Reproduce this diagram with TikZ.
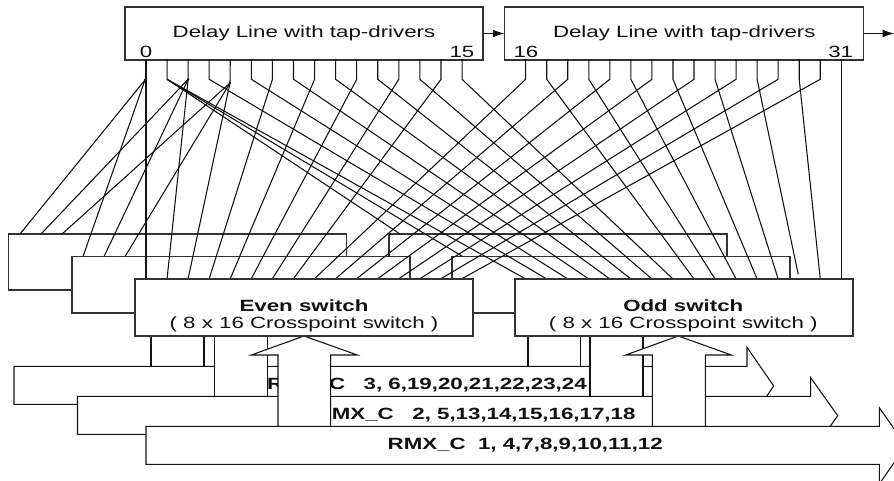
\documentclass[tikz,border=0pt]{standalone}
\usepackage{fontspec}
\setmainfont[FakeStretch=1.37]{Liberation Sans}
\usetikzlibrary{arrows.meta}
\definecolor{ink}{HTML}{111111}
\definecolor{boxink}{HTML}{333333}
\tikzset{
  sized/.style n args={2}{minimum width=#1*0.75pt, minimum height=#2*0.75pt},
  block/.style={draw=boxink, line width=0.85pt, fill=white, inner sep=0pt, rectangle},
  lbl/.style={inner sep=0pt, font=\fontsize{12.2pt}{14pt}\selectfont, text=ink},
  rmx/.style={lbl, anchor=east, font=\fontsize{12.2pt}{14pt}\selectfont\bfseries},
  wire/.style={draw=ink, line width=0.8pt},
  shape line/.style={draw=ink, line width=0.8pt, fill=white},
  link/.style={draw=ink, line width=0.7pt, -{Latex[length=8.6pt,width=6pt]}},
  dot/.style={fill=ink, draw=none}
}
\begin{document}
\begin{tikzpicture}[x=0.75pt,y=-0.75pt]
\clip (0,0) rectangle (894,481);
\fill[white] (0,0) rectangle (894,481);

% rear switch boards
\node[block, sized={338}{56}] (evenA) at (177.5,262) {};
\node[block, sized={338}{56}] (oddA) at (558,262) {};
\node[block, sized={338}{56.5}] (evenB) at (241,284.7) {};
\node[block, sized={338}{56.5}] (oddB) at (621,284.7) {};

% delay lines
\node[block, sized={358}{53}, lbl] (delayA) at (304,33.5) {Delay Line with tap-drivers};
\node[block, sized={359}{53}, lbl] (delayB) at (684.3,33.5) {Delay Line with tap-drivers};
\node[lbl] (n0) at (146,51.5) {0};
\node[lbl] (n15) at (462,51.5) {15};
\node[lbl] (n16) at (526,51.5) {16};
\node[lbl] (n31) at (840.7,51.5) {31};
\coordinate (outEnd) at (894,33.5);
\draw[link] (delayA.east) -- (delayB.west);
\draw[link] (delayB.east) -- (outEnd);

% taps, knees and inputs
\foreach \i in {0,...,15} {
  \coordinate (t\i) at ({146+21.07*\i},60);
  \coordinate (k\i) at ({146+21.07*\i},79.3);
}
\foreach \i in {16,...,31} {
  \coordinate (t\i) at ({525.7+21.04*(\i-16)},60);
  \coordinate (k\i) at ({525.7+21.04*(\i-16)},79.3);
}
\coordinate (k4) at (230,83);
\foreach \k in {0,...,15} {
  \coordinate (ec\k) at ({146+21.03*\k},279);
  \coordinate (oc\k) at ({525.7+21.04*\k},279);
}
\foreach \k in {0,1,2} {
  \coordinate (ea\k) at ({20+21.03*\k},234);
  \coordinate (eb\k) at ({83+21.03*\k},256.5);
}
\coordinate (oa0) at (400,234);
\coordinate (ob0) at (462.7,256.5);
\coordinate (fan0) at (145,80);

% wires
\foreach \i in {0,...,31} { \fill[dot] (t\i) circle (1.2); }
\draw[wire] (t0) -- (ec0);
\foreach \k in {1,...,15} {
  \pgfmathtruncatemacro\i{2*\k}
  \draw[wire] (t\i) -- (k\i) -- (ec\k);
}
\foreach \k in {0,...,12,14} {
  \pgfmathtruncatemacro\i{2*\k+1}
  \draw[wire] (t\i) -- (k\i) -- (oc\k);
}
\draw[wire, shorten >=3.5pt] (t27) -- (k27) -- (oc13);
\draw[wire] (t31) -- (oc15);
\draw[wire] (fan0) -- (ea0);
\draw[wire] (fan0) -- (eb0);
\fill[dot] (fan0) circle (1.3);
\foreach \k in {1,2} {
  \pgfmathtruncatemacro\i{2*\k}
  \draw[wire] (k\i) -- (ea\k);
  \draw[wire] (k\i) -- (eb\k);
  \fill[dot] (k\i) circle (1.3);
}
\draw[wire] (k1) -- (oa0);
\draw[wire] (k1) -- (ob0);

% rear up-arrow shafts, first layer
\path[shape line] (151,336) -- (151,366.3) -- (204,366.3) -- (204,336);
\path[shape line] (528,336) -- (528,366.3) -- (580.7,366.3) -- (580.7,336);

% bus C3
\path[shape line] (14,366.3) -- (747,366.3) -- (747,347.3) -- (773.7,386) -- (747,424.7) -- (747,404.3) -- (14,404.3) -- cycle;
\node[rmx] (rmx3) at (587,385.5) {RMX\_C\ \ \ 3, 6,19,20,21,22,23,24};

% rear up-arrow shafts, second layer
\path[shape line] (214.7,336) -- (214.7,396.3) -- (267.3,396.3) -- (267.3,336);
\path[shape line] (590,336) -- (590,396.3) -- (643,396.3) -- (643,336);

% bus C2
\path[shape line] (77.5,396.3) -- (810.7,396.3) -- (810.7,377.7) -- (837.7,415.7) -- (810.7,454) -- (810.7,434.3) -- (77.5,434.3) -- cycle;
\node[rmx] (rmx2) at (635.7,415.5) {RMX\_C\ \ \ 2, 5,13,14,15,16,17,18};

% front up arrows
\path[shape line] (278,426.3) -- (278,355) -- (251.3,355) -- (304,336) -- (357.3,355) -- (330.7,355) -- (330.7,426.3);
\path[shape line] (652.3,426.3) -- (652.3,355) -- (625.7,355) -- (678.3,336) -- (731.3,355) -- (705.3,355) -- (705.3,426.3);

% bus C1
\path[shape line] (146,426.3) -- (879.3,426.3) -- (879.3,407.7) -- (906,445.7) -- (879.3,484) -- (879.3,464.3) -- (146,464.3) -- cycle;
\node[rmx] (rmx1) at (663,445.5) {RMX\_C\ \ 1, 4,7,8,9,10,11,12};

% front switches
\node[block, sized={338}{57}] (evenC) at (304,307.5) {};
\node[block, sized={338}{57}] (oddC) at (684,307.5) {};
\node[lbl, font=\fontsize{12.2pt}{14pt}\selectfont\bfseries] (evenT) at (304,305.7) {Even switch};
\node[lbl] (evenS) at (304,324.3) {( 8 x 16 Crosspoint switch )};
\node[lbl, font=\fontsize{12.2pt}{14pt}\selectfont\bfseries] (oddT) at (683.3,305.7) {Odd switch};
\node[lbl] (oddS) at (683.3,324.3) {( 8 x 16 Crosspoint switch )};
\end{tikzpicture}
\end{document}
